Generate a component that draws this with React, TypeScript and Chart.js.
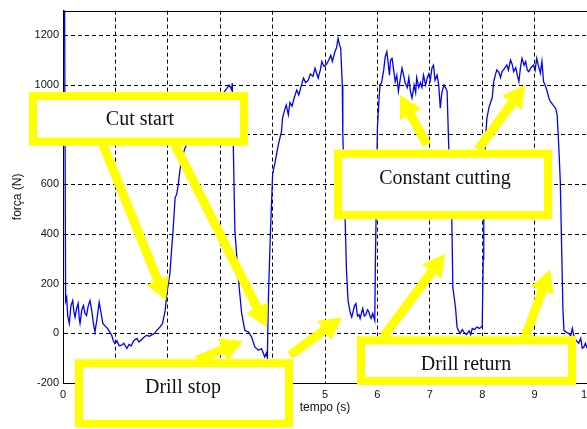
import React, { useEffect, useRef } from 'react';
import { Chart, registerables } from 'chart.js';

Chart.register(...registerables);

// ---- data (time in s, force in N) ----
const timeS = [
  0, 0.03, 0.05, 0.07, 0.09, 0.12, 0.15, 0.185, 0.21, 0.23,
  0.26, 0.29, 0.31, 0.325, 0.36, 0.39, 0.42, 0.45, 0.48, 0.515,
  0.55, 0.58, 0.61, 0.65, 0.69, 0.72, 0.76, 0.80, 0.83, 0.88,
  0.93, 0.96, 0.99, 1.03, 1.07, 1.12, 1.16, 1.22, 1.26, 1.30,
  1.35, 1.41, 1.45, 1.50, 1.55, 1.60, 1.65, 1.70, 1.75, 1.79,
  1.85, 1.90, 1.95, 1.98, 2.01, 2.04, 2.07, 2.10, 2.14, 2.17,
  2.20, 2.23, 2.27, 2.33, 2.36, 2.45, 2.55, 2.65, 2.75, 2.85,
  2.95, 3.05, 3.12, 3.17, 3.20, 3.22, 3.23, 3.25, 3.28, 3.35,
  3.41, 3.47, 3.54, 3.60, 3.66, 3.73, 3.79, 3.85, 3.88, 3.90,
  3.92, 3.96, 4.00, 4.05, 4.11, 4.17, 4.19, 4.23, 4.26, 4.30,
  4.33, 4.37, 4.41, 4.46, 4.50, 4.55, 4.59, 4.63, 4.68, 4.72,
  4.77, 4.81, 4.87, 4.91, 4.94, 4.98, 5.03, 5.07, 5.11, 5.14,
  5.19, 5.22, 5.25, 5.28, 5.30, 5.33, 5.34, 5.38, 5.41, 5.44,
  5.48, 5.51, 5.54, 5.56, 5.59, 5.62, 5.65, 5.67, 5.70, 5.72,
  5.75, 5.78, 5.81, 5.83, 5.86, 5.88, 5.91, 5.95, 5.96, 5.98,
  6.00, 6.03, 6.05, 6.08, 6.12, 6.15, 6.18, 6.21, 6.23, 6.25,
  6.28, 6.31, 6.34, 6.37, 6.40, 6.44, 6.47, 6.50, 6.53, 6.57,
  6.60, 6.63, 6.66, 6.70, 6.73, 6.75, 6.79, 6.82, 6.85, 6.88,
  6.92, 6.95, 6.98, 7.01, 7.04, 7.07, 7.10, 7.14, 7.17, 7.20,
  7.23, 7.27, 7.30, 7.33, 7.36, 7.42, 7.44, 7.49, 7.52, 7.55,
  7.58, 7.62, 7.65, 7.70, 7.75, 7.78, 7.81, 7.85, 7.90, 7.95,
  8.00, 8.02, 8.03, 8.06, 8.09, 8.13, 8.16, 8.19, 8.22, 8.25,
  8.28, 8.32, 8.35, 8.38, 8.42, 8.47, 8.50, 8.54, 8.57, 8.60,
  8.64, 8.67, 8.70, 8.73, 8.76, 8.80, 8.83, 8.86, 8.89, 8.93,
  8.98, 9.01, 9.04, 9.07, 9.11, 9.14, 9.17, 9.20, 9.24, 9.27,
  9.30, 9.35, 9.40, 9.43, 9.46, 9.49, 9.52, 9.54, 9.56, 9.60,
  9.65, 9.69, 9.72, 9.76, 9.80, 9.84, 9.88, 9.91, 9.94, 9.97,
  10.0,
];

const forceN = [
  1400, 1350, 130, 145, 70, 40, 110, 132, 85, 65,
  100, 120, 60, 40, 95, 112, 80, 72, 110, 132,
  90, 40, 5, 60, 125, 90, 40, 30, 25, 10,
  -8, -30, -41, -30, -50, -48, -40, -61, -45, -50,
  -30, -21, -35, -25, -15, -8, -12, -5, 0, 12,
  25, 40, 92, 159, 200, 239, 330, 413, 547, 560,
  600, 654, 707, 747, 760, 790, 840, 870, 900, 925,
  950, 965, 985, 1000, 990, 980, 1008, 760, 413, 212,
  79, 12, 5, -15, -55, -68, -62, -95, -80, -98,
  145, 413, 640, 693, 760, 813, 867, 900, 920, 880,
  930, 915, 947, 980, 960, 1000, 1028, 1010, 1020, 1045,
  1035, 1068, 1028, 1060, 1095, 1075, 1085, 1100, 1120, 1095,
  1135, 1150, 1188, 1160, 1148, 1000, 800, 493, 253, 132,
  85, 65, 90, 110, 120, 70, 75, 60, 85, 100,
  70, 75, 95, 90, 70, 60, 80, 52, 265, 533,
  827, 940, 1000, 1010, 1060, 1115, 1135, 1080, 1040, 1100,
  1108, 1060, 1014, 1040, 975, 1030, 1068, 1040, 1008, 990,
  1030, 975, 948, 1000, 970, 1030, 990, 1010, 990, 1040,
  1000, 1028, 1045, 1020, 1068, 1080, 1020, 1040, 1000, 907,
  970, 1000, 990, 975, 760, 453, 185, 105, 25, 10,
  0, 15, 5, -5, 10, -5, 20, 15, 25, 20,
  30, 300, 533, 774, 867, 910, 930, 948, 1014, 1040,
  1061, 1050, 1030, 1055, 1065, 1081, 1060, 1101, 1085, 1054,
  1070, 1040, 1014, 1070, 1108, 1080, 1095, 1060, 1054, 1070,
  1081, 1060, 1108, 1080, 1048, 1095, 1014, 1000, 975, 950,
  934, 920, 907, 880, 760, 614, 306, 100, 12, 5,
  0, -10, 20, -20, -30, -40, -20, -60, -55, -40,
  -60,
];

const xTicks = [0, 1, 2, 3, 4, 5, 6, 7, 8, 9, 10];
const yTicks = [-200, 0, 200, 400, 600, 800, 1000, 1200];
const xTitle = 'tempo (s)';
const yTitle = 'força (N)';

// ---- callouts (in data coordinates) ----
const calloutLabels = ['Cut start', 'Drill stop', 'Constant cutting', 'Drill return'];
// [xLeft, xRight, yTop, yBottom] of outer box edge
const calloutBoxes = [
  [-0.649, 3.53, 972, 756],
  [0.229, 4.389, -104, -380],
  [5.172, 9.332, 740, 460],
  [5.611, 9.79, -12, -208],
];
// text centre
const calloutText = [
  [1.469, 860],
  [2.29, -220],
  [7.29, 624],
  [7.691, -128],
];
// arrows: [xFrom, yFrom, xTip, yTip]
const calloutArrows = [
  [0.763, 760, 1.966, 132],
  [2.137, 760, 3.893, 24],
  [2.557, -108, 3.435, -32],
  [4.332, -88, 5.324, 64],
  [6.947, 760, 6.431, 960],
  [7.92, 740, 8.817, 1000],
  [6.107, -16, 7.29, 320],
  [8.817, -16, 9.294, 256],
];

const YELLOW = '#ffff00';

const calloutPlugin = {
  id: 'callouts',
  afterDraw(chart: any) {
    const { ctx, chartArea } = chart;
    const xs = chart.scales.x;
    const ys = chart.scales.y;
    ctx.save();
    // top frame line
    ctx.strokeStyle = '#000';
    ctx.lineWidth = 1;
    ctx.setLineDash([]);
    ctx.beginPath();
    ctx.moveTo(chartArea.left, Math.round(chartArea.top) + 0.5);
    ctx.lineTo(chartArea.right, Math.round(chartArea.top) + 0.5);
    ctx.stroke();

    // arrows
    ctx.strokeStyle = YELLOW;
    ctx.fillStyle = YELLOW;
    const headLen = 22;
    const headHalf = 12;
    calloutArrows.forEach(([x0, y0, x1, y1]) => {
      const ax = xs.getPixelForValue(x0);
      const ay = ys.getPixelForValue(y0);
      const bx = xs.getPixelForValue(x1);
      const by = ys.getPixelForValue(y1);
      const dx = bx - ax;
      const dy = by - ay;
      const len = Math.hypot(dx, dy);
      const ux = dx / len;
      const uy = dy / len;
      const baseX = bx - ux * headLen;
      const baseY = by - uy * headLen;
      ctx.lineWidth = 9;
      ctx.lineCap = 'butt';
      ctx.beginPath();
      ctx.moveTo(ax, ay);
      ctx.lineTo(baseX + ux * 2, baseY + uy * 2);
      ctx.stroke();
      ctx.beginPath();
      ctx.moveTo(bx, by);
      ctx.lineTo(baseX - uy * headHalf, baseY + ux * headHalf);
      ctx.lineTo(baseX + uy * headHalf, baseY - ux * headHalf);
      ctx.closePath();
      ctx.fill();
    });

    // boxes
    const bw = 8;
    calloutBoxes.forEach(([x0, x1, y0, y1], i) => {
      const l = xs.getPixelForValue(x0);
      const r = xs.getPixelForValue(x1);
      const t = ys.getPixelForValue(y0);
      const b = ys.getPixelForValue(y1);
      ctx.fillStyle = '#ffffff';
      ctx.fillRect(l, t, r - l, b - t);
      ctx.strokeStyle = YELLOW;
      ctx.lineWidth = bw;
      ctx.strokeRect(l + bw / 2, t + bw / 2, r - l - bw, b - t - bw);
      const [tx, ty] = calloutText[i];
      ctx.fillStyle = '#111111';
      ctx.font = '20px "Liberation Serif", "Times New Roman", serif';
      ctx.textAlign = 'center';
      ctx.textBaseline = 'middle';
      ctx.fillText(calloutLabels[i], xs.getPixelForValue(tx), ys.getPixelForValue(ty));
    });
    ctx.restore();
  },
};

export default function App() {
  const canvasRef = useRef<HTMLCanvasElement | null>(null);

  useEffect(() => {
    document.documentElement.style.overflow = 'hidden';
    document.body.style.overflow = 'hidden';
    const canvas = canvasRef.current;
    if (!canvas) return;
    const points = timeS.map((t, i) => ({ x: t, y: forceN[i] }));
    const chart = new Chart(canvas, {
      type: 'line',
      data: {
        datasets: [
          {
            data: points,
            borderColor: '#0000ff',
            borderWidth: 1.3,
            pointRadius: 0,
            fill: false,
            tension: 0,
          },
        ],
      },
      options: {
        animation: false,
        responsive: false,
        devicePixelRatio: 1,
        layout: { padding: { top: 8, right: 13, left: 0, bottom: 0 } },
        plugins: {
          legend: { display: false },
          tooltip: { enabled: false },
        },
        scales: {
          x: {
            type: 'linear',
            min: 0,
            max: 10,
            afterBuildTicks: (s: any) => {
              s.ticks = xTicks.map((v) => ({ value: v }));
            },
            afterFit: (s: any) => {
              s.height = 46;
            },
            grid: { color: '#000', lineWidth: 1, drawTicks: false },
            border: { display: true, color: '#000', width: 1, dash: [4, 3] },
            ticks: {
              padding: 5,
              color: '#111',
              font: { size: 11, family: '"Liberation Sans", Arial, sans-serif' },
              maxRotation: 0,
              autoSkip: false,
              callback: (v: any) => String(v),
            },
            title: {
              display: true,
              text: xTitle,
              color: '#111',
              font: { size: 12, family: '"Liberation Sans", Arial, sans-serif' },
              padding: { top: 0, bottom: 14 },
            },
          },
          y: {
            type: 'linear',
            min: -200,
            max: 1300,
            afterBuildTicks: (s: any) => {
              s.ticks = yTicks.map((v) => ({ value: v }));
            },
            afterFit: (s: any) => {
              s.width = 63;
            },
            grid: { color: '#000', lineWidth: 1, drawTicks: false },
            border: { display: true, color: '#000', width: 1, dash: [4, 3] },
            ticks: {
              padding: 4,
              color: '#111',
              font: { size: 11, family: '"Liberation Sans", Arial, sans-serif' },
              autoSkip: false,
              callback: (v: any) => String(v),
            },
            title: {
              display: true,
              text: yTitle,
              color: '#111',
              font: { size: 12, family: '"Liberation Sans", Arial, sans-serif' },
              padding: { top: 10, bottom: 0 },
            },
          },
        },
      },
      plugins: [calloutPlugin],
    });
    return () => chart.destroy();
  }, []);

  return (
    <div style={{ position: 'fixed', left: 0, top: 0, width: 600, height: 429, background: '#fff' }}>
      <canvas ref={canvasRef} width={600} height={429} style={{ display: 'block', width: 600, height: 429 }} />
    </div>
  );
}
